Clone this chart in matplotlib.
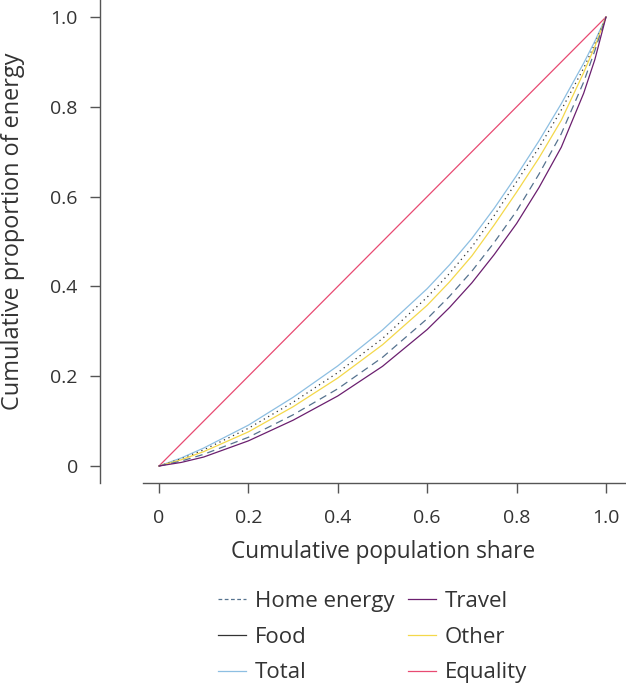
import matplotlib
matplotlib.use("Agg")
import matplotlib.pyplot as plt
from matplotlib.lines import Line2D

plt.rcParams['font.family'] = ['Open Sans', 'DejaVu Sans']

pop_share = [0, 0.05, 0.1, 0.2, 0.3, 0.4, 0.5, 0.6, 0.65, 0.7, 0.75, 0.8, 0.85, 0.9, 0.95, 0.975, 1.0]
total = [0, 0.018, 0.040, 0.091, 0.153, 0.223, 0.303, 0.395, 0.448, 0.507, 0.574, 0.647, 0.724, 0.807, 0.897, 0.946, 1.0]
food = [0, 0.016, 0.036, 0.084, 0.142, 0.208, 0.284, 0.376, 0.429, 0.488, 0.558, 0.633, 0.709, 0.793, 0.886, 0.940, 1.0]
other = [0, 0.014, 0.032, 0.076, 0.132, 0.196, 0.270, 0.358, 0.410, 0.468, 0.537, 0.610, 0.686, 0.770, 0.876, 0.934, 1.0]
home_energy = [0, 0.011, 0.026, 0.064, 0.114, 0.172, 0.242, 0.328, 0.378, 0.434, 0.498, 0.568, 0.650, 0.740, 0.855, 0.925, 1.0]
travel = [0, 0.008, 0.020, 0.056, 0.102, 0.156, 0.222, 0.304, 0.353, 0.408, 0.471, 0.540, 0.620, 0.710, 0.830, 0.905, 1.0]
equality_x = [0, 1]
equality_y = [0, 1]
ticks = [0, 0.2, 0.4, 0.6, 0.8, 1.0]
tick_labels = ['0', '0.2', '0.4', '0.6', '0.8', '1.0']

c_total = '#8dbfe2'
c_food = '#333333'
c_other = '#f4d84a'
c_home = '#56738f'
c_travel = '#6b1f6f'
c_eq = '#e84a72'
txt = '#333333'

W, H = 626, 685
fig = plt.figure(figsize=(W / 100, H / 100), dpi=100)
ax = fig.add_axes([100 / W, (H - 483) / H, 526 / W, 483 / H])

lw = 0.9
ax.plot(equality_x, equality_y, color=c_eq, lw=lw)
ax.plot(pop_share, total, color=c_total, lw=lw)
ax.plot(pop_share, food, color=c_food, lw=lw, linestyle=(0, (1, 3)))
ax.plot(pop_share, other, color=c_other, lw=lw)
ax.plot(pop_share, home_energy, color=c_home, lw=lw, linestyle=(0, (6, 4)))
ax.plot(pop_share, travel, color=c_travel, lw=lw)

x0, x1 = 159, 606
y0, y1 = 466, 17
sx = (x1 - x0)
sy = (y0 - y1)
ax.set_xlim((100 - x0) / sx, (626 - x0) / sx)
ax.set_ylim((y0 - 483) / sy, y0 / sy)

for s in ['top', 'right']:
    ax.spines[s].set_visible(False)
for s in ['left', 'bottom']:
    ax.spines[s].set_color('#555555')
    ax.spines[s].set_linewidth(1.0)
ax.spines['bottom'].set_bounds((143 - x0) / sx, (626 - x0) / sx)

ax.set_xticks(ticks)
ax.set_xticklabels(tick_labels)
ax.set_yticks(ticks)
ax.set_yticklabels(tick_labels)
ax.tick_params(axis='both', length=7, width=1.0, color='#555555', labelsize=14,
               labelcolor=txt)
ax.tick_params(axis='x', pad=12)
ax.tick_params(axis='y', pad=9)

ax.set_xlabel('Cumulative population share', fontsize=16.3, color=txt)
ax.set_ylabel('Cumulative proportion of energy', fontsize=16.9, color=txt)
ax.xaxis.set_label_coords((383 - 100) / 526, (483 - 540) / 483)
ax.yaxis.set_label_coords((25 - 100) / 526, (483 - 231) / 483)

handles = [
    Line2D([], [], color=c_home, lw=lw, linestyle=(0, (3, 2))),
    Line2D([], [], color=c_food, lw=lw),
    Line2D([], [], color=c_total, lw=lw),
    Line2D([], [], color=c_travel, lw=lw),
    Line2D([], [], color=c_other, lw=lw),
    Line2D([], [], color=c_eq, lw=lw),
]
labels = ['Home energy', 'Food', 'Total', 'Travel', 'Other', 'Equality']
fig.legend(handles, labels, ncol=2, frameon=False, fontsize=16,
           loc='upper left', bbox_to_anchor=(218 / W, 1 - 591 / H),
           borderpad=0, borderaxespad=0,
           handlelength=1.25, handletextpad=0.42, columnspacing=0.6,
           labelspacing=0.66, labelcolor=txt)

fig.savefig('out.png', dpi=100)
